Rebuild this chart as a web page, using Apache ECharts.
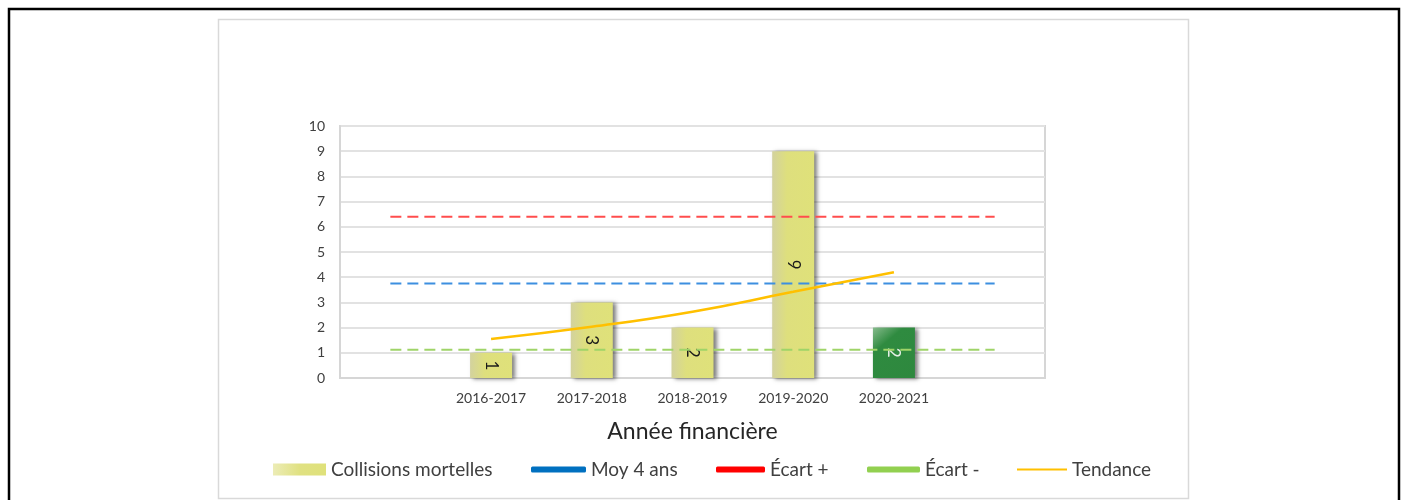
<!DOCTYPE html>
<html>
<head>
<meta charset="utf-8">
<script src="https://cdn.jsdelivr.net/npm/echarts@6/dist/echarts.min.js"></script>
<style>
  html, body { margin: 0; padding: 0; background: #fff; }
  #chart { width: 1404px; height: 500px; }
</style>
</head>
<body>
<div id="chart"></div>
<script>
// categories (first and last are empty padding slots, like in the excel sheet)
const categories = ['', '2016-2017', '2017-2018', '2018-2019', '2019-2020', '2020-2021', ''];
const collisions = [null, 1, 3, 2, 9, 2, null];
const moy4ans = [3.75, 3.75, 3.75, 3.75, 3.75, 3.75, 3.75];
const ecartPlus = [6.4, 6.4, 6.4, 6.4, 6.4, 6.4, 6.4];
const ecartMoins = [1.12, 1.12, 1.12, 1.12, 1.12, 1.12, 1.12];
const tendance = [null, 1.55, 2.03, 2.63, 3.42, 4.2, null];
const yTicks = [0, 1, 2, 3, 4, 5, 6, 7, 8, 9, 10];

const font = 'Lato, "Open Sans", sans-serif';

const yellowBar = new echarts.graphic.LinearGradient(0, 0, 1, 0, [
  { offset: 0, color: '#d3d29e' },
  { offset: 0.35, color: '#dedf7d' },
  { offset: 1, color: '#dfe17a' }
]);
const greenBar = new echarts.graphic.LinearGradient(0, 0, 1, 1, [
  { offset: 0, color: '#86bb8c' },
  { offset: 0.3, color: '#2f8b40' },
  { offset: 1, color: '#2e883e' }
]);

const barData = collisions.map(function (v, i) {
  if (i === 5) {
    return {
      value: v,
      itemStyle: { color: greenBar },
      label: { color: '#e6efe6' }
    };
  }
  return v;
});

function dashed(name, data, color) {
  return {
    name: name,
    type: 'line',
    data: data,
    symbol: 'none',
    silent: true,
    lineStyle: { color: color, width: 2, type: [11, 6] },
    z: 3
  };
}

function legendItem(left, name, icon, w, h, color) {
  return {
    left: left,
    top: 455,
    icon: icon,
    itemWidth: w,
    itemHeight: h,
    itemGap: 0,
    selectedMode: false,
    textStyle: { fontFamily: font, fontSize: 19, color: '#404040' },
    data: [{ name: name, itemStyle: { color: color, borderWidth: 0 } }]
  };
}

const option = {
  animation: false,
  graphic: [
    {
      type: 'rect',
      shape: { x: 9, y: 9, width: 1390, height: 600 },
      style: { fill: 'none', stroke: '#000', lineWidth: 2.5 },
      silent: true
    },
    {
      type: 'rect',
      shape: { x: 218.5, y: 19.5, width: 970, height: 479 },
      style: { fill: 'none', stroke: '#d9d9d9', lineWidth: 1.5 },
      silent: true
    }
  ],
  grid: {
    left: 340,
    right: 359,
    top: 126,
    bottom: 122,
    show: true,
    borderColor: '#d6d6d6',
    borderWidth: 2
  },
  legend: [
    legendItem(268, 'Collisions mortelles', 'rect', 53, 12,
      new echarts.graphic.LinearGradient(0, 0, 1, 0, [
        { offset: 0, color: '#ececb6' },
        { offset: 0.5, color: '#e0e182' },
        { offset: 1, color: '#dfe17a' }
      ])),
    legendItem(526, 'Moy 4 ans', 'roundRect', 55, 6, '#0070c0'),
    legendItem(711, 'Écart +', 'roundRect', 49, 6, '#ff0000'),
    legendItem(862, 'Écart -', 'roundRect', 53, 6, '#92d050'),
    legendItem(1012, 'Tendance', 'rect', 50, 2, '#ffc000')
  ],
  xAxis: {
    type: 'category',
    data: categories,
    name: 'Année financière',
    nameLocation: 'middle',
    nameGap: 42,
    nameTextStyle: { fontFamily: font, fontSize: 23, color: '#262626' },
    axisLine: { lineStyle: { color: '#d6d6d6', width: 2 } },
    axisTick: { show: false },
    axisLabel: {
      interval: 0,
      margin: 13,
      fontFamily: font,
      fontSize: 14,
      color: '#404040'
    }
  },
  yAxis: {
    type: 'value',
    min: yTicks[0],
    max: yTicks[yTicks.length - 1],
    interval: 1,
    axisLine: { show: true, lineStyle: { color: '#d6d6d6', width: 2 } },
    axisTick: { show: false },
    axisLabel: { margin: 15, fontFamily: font, fontSize: 14, color: '#404040' },
    splitLine: { lineStyle: { color: '#e2e2e2', width: 2 } }
  },
  series: [
    {
      name: 'Collisions mortelles',
      type: 'bar',
      data: barData,
      barWidth: 42,
      itemStyle: {
        color: yellowBar,
        shadowColor: 'rgba(0,0,0,0.5)',
        shadowBlur: 4,
        shadowOffsetX: 3,
        shadowOffsetY: 1
      },
      label: {
        show: true,
        position: 'inside',
        rotate: -90,
        fontFamily: font,
        fontSize: 17,
        color: '#1a1a1a'
      },
      z: 2
    },
    dashed('Moy 4 ans', moy4ans, '#3d8fe0'),
    dashed('Écart +', ecartPlus, '#ff4d4d'),
    dashed('Écart -', ecartMoins, '#9fd468'),
    {
      name: 'Tendance',
      type: 'line',
      data: tendance,
      smooth: true,
      symbol: 'none',
      silent: true,
      lineStyle: { color: '#ffc000', width: 2.5 },
      z: 4
    }
  ]
};

const myChart = echarts.init(document.getElementById('chart'));
myChart.setOption(option);
</script>
</body>
</html>
